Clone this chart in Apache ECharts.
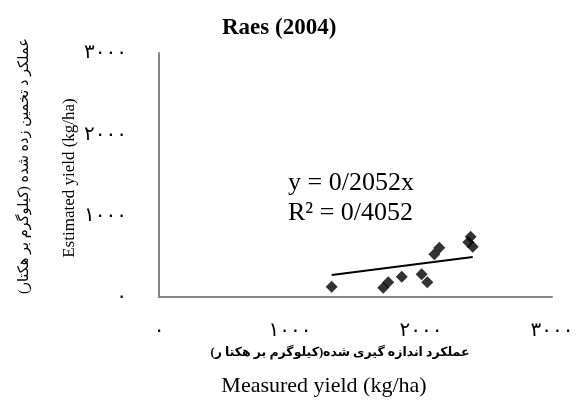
<!DOCTYPE html>
<html>
<head>
<meta charset="utf-8">
<script src="https://cdn.jsdelivr.net/npm/echarts@6/dist/echarts.min.js"></script>
<style>html,body{margin:0;padding:0;background:#fff}#c{width:578px;height:400px}</style>
</head>
<body>
<div id="c"></div>
<script>
// Data
const measured = [1318, 1712, 1750, 1853, 2005, 2048, 2102, 2140, 2361, 2379, 2395];
const estimated = [127, 114, 181, 250, 279, 181, 525, 606, 673, 741, 618];
const slope = 0.2052;
const r2Text = '0/4052';
const slopeText = '0/2052';
const xTickLabels = ['٠', '١٠٠٠', '٢٠٠٠', '٣٠٠٠'];
const yTickLabels = ['٠', '١٠٠٠', '٢٠٠٠', '٣٠٠٠'];
const titleText = 'Raes (2004)';
const xNameFa = 'عملکرد اندازه گیری شده(کیلوگرم بر هکتا ر)';
const xNameEn = 'Measured yield (kg/ha)';
const yNameFa = 'عملکر د تخمین زده شده (کیلوگرم بر هکتار)';
const yNameEn = 'Estimated yield (kg/ha)';

const RLM = '\u200F';
const serif = '"Liberation Serif", "DejaVu Sans", serif';
const points = measured.map((x, i) => [x, estimated[i]]);
const xMin = Math.min(...measured), xMax = Math.max(...measured);
const trend = [[xMin, slope * xMin], [xMax, slope * xMax]];

const chart = echarts.init(document.getElementById('c'));
chart.setOption({
  backgroundColor: '#fff',
  animation: false,
  title: {
    text: titleText, left: 217, top: 12,
    textStyle: { fontFamily: serif, fontSize: 23, fontWeight: 'bold', color: '#000' }
  },
  grid: { left: 159, right: 26, top: 53, bottom: 103 },
  xAxis: {
    type: 'value', min: 0, max: 3000, interval: 1000,
    axisLine: { lineStyle: { color: '#868686', width: 2 } },
    axisTick: { show: false }, splitLine: { show: false },
    axisLabel: {
      margin: 24, color: '#000', fontSize: 20, fontFamily: serif,
      formatter: v => xTickLabels[Math.round(v / 1000)]
    }
  },
  yAxis: {
    type: 'value', min: 0, max: 3000, interval: 1000,
    axisLine: { show: true, lineStyle: { color: '#868686', width: 2 } },
    axisTick: { show: false }, splitLine: { show: false },
    axisLabel: {
      margin: 32, color: '#000', fontSize: 20, fontFamily: serif,
      formatter: v => yTickLabels[Math.round(v / 1000)]
    }
  },
  series: [
    {
      type: 'line', data: trend, symbol: 'none',
      lineStyle: { color: '#000', width: 2 }, z: 2
    },
    {
      type: 'scatter', data: points, symbol: 'diamond', symbolSize: 12,
      itemStyle: { color: '#000' }, z: 3
    }
  ],
  graphic: [
    {
      type: 'text', x: 288, y: 168,
      style: {
        text: 'y = ' + slopeText + 'x\nR² = ' + r2Text,
        font: '26px ' + serif, fill: '#000', lineHeight: 30,
        textAlign: 'left', textVerticalAlign: 'top'
      }
    },
    {
      type: 'text', x: 340, y: 353,
      style: {
        text: xNameFa + RLM, font: 'bold 12.5px ' + serif, fill: '#000',
        textAlign: 'center', textVerticalAlign: 'middle'
      }
    },
    {
      type: 'text', x: 324, y: 386,
      style: {
        text: xNameEn, font: '22px ' + serif, fill: '#000',
        textAlign: 'center', textVerticalAlign: 'middle'
      }
    },
    {
      type: 'text', x: 24, y: 166, rotation: Math.PI / 2,
      style: {
        text: yNameFa + RLM, font: '14.5px ' + serif, fill: '#000',
        textAlign: 'center', textVerticalAlign: 'middle'
      }
    },
    {
      type: 'text', x: 70, y: 178, rotation: Math.PI / 2,
      style: {
        text: yNameEn, font: '17px ' + serif, fill: '#000',
        textAlign: 'center', textVerticalAlign: 'middle'
      }
    }
  ]
});
</script>
</body>
</html>
